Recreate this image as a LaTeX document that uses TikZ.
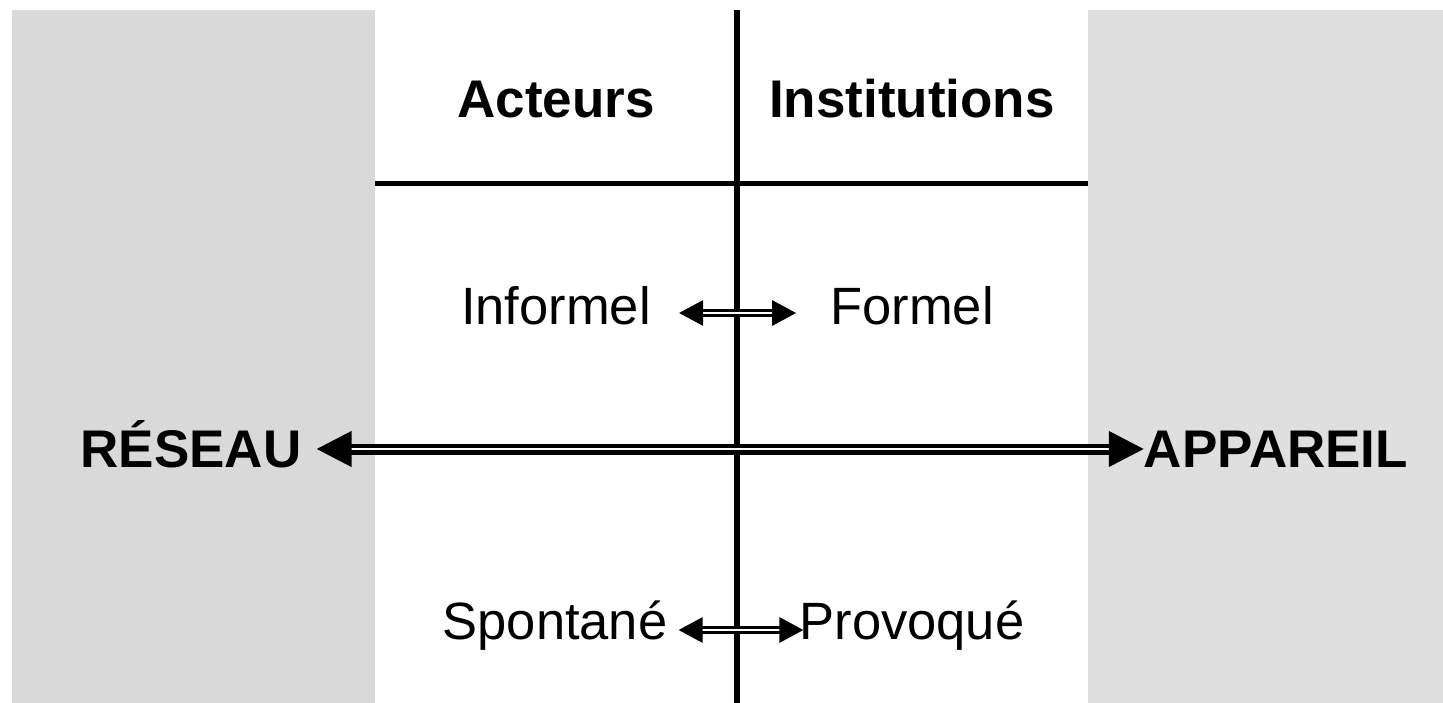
\documentclass[tikz,border=0pt]{standalone}
\usepackage{fontspec}
\setmainfont{Liberation Sans}
\usetikzlibrary{arrows.meta,positioning}
\definecolor{greyleft}{HTML}{D9D9D9}
\definecolor{greyright}{HTML}{DFDFDF}
\tikzstyle{every node}=[inner sep=0pt,anchor=base,font=\fontsize{52.5}{60}\selectfont]
\tikzstyle{title}=[font=\fontsize{53}{60}\selectfont\bfseries]
\tikzstyle{pole}=[font=\fontsize{53}{60}\selectfont\bfseries]
\tikzstyle{small arrow}=[draw,line width=3pt,double=white,double distance=2pt,
  {Triangle[length=24pt,width=25pt]}-{Triangle[length=24pt,width=25pt]}]
\tikzstyle{big arrow}=[draw,line width=4.5pt,double=white,double distance=2pt,
  {Triangle[length=35pt,width=35pt]}-{Triangle[length=35pt,width=35pt]}]

\begin{document}
\begin{tikzpicture}[x=1pt,y=-1pt]
  \useasboundingbox (0,0) rectangle (1443,703);
  \fill[greyleft]  (12,10) rectangle (375,703);
  \fill[greyright] (1088,10) rectangle (1443,703);
  \draw[line width=6pt] (737,10) -- (737,703);
  \draw[line width=5pt] (375,184) -- (1088,184);

  \node[title] (acteurs)      at (556,118) {Acteurs};
  \node[title] (institutions) at (912,118) {Institutions};
  \node        (informel)     at (556,325) {Informel};
  \node        (formel)       at (912,325) {Formel};
  \node        (spontane)     at (555,639) {Spontané};
  \node        (provoque)     at (912,639) {Provoqué};
  \node[pole]  (reseau)       at (191,467) {RÉSEAU};
  \node[pole]  (appareil)     at (1276,467) {APPAREIL};

  \path[small arrow,shorten <=28pt,shorten >=34pt]
    ([yshift=12pt]informel.base east) -- ([yshift=12pt]formel.base west);
  \path[small arrow,shorten <=11pt,shorten >=-4pt]
    ([yshift=9pt]spontane.base east) -- ([yshift=9pt]provoque.base west);
  \path[big arrow,shorten <=15pt,shorten >=0pt]
    ([yshift=18pt]reseau.base east) -- ([yshift=18pt]appareil.base west);
\end{tikzpicture}
\end{document}
